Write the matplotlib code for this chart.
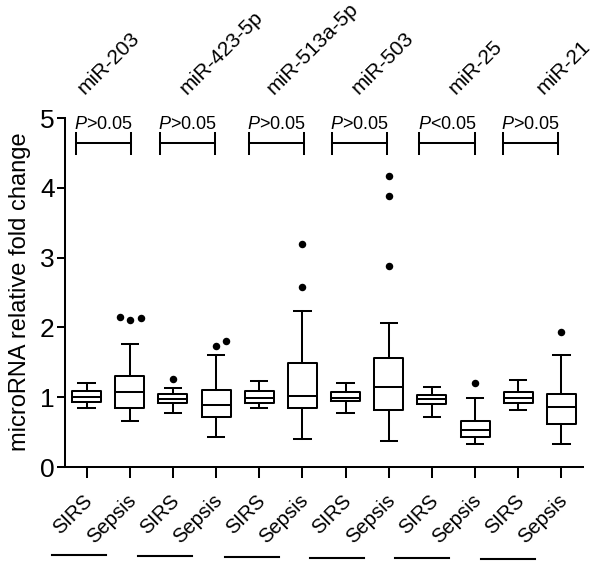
import matplotlib
matplotlib.use("Agg")
import matplotlib.pyplot as plt
from matplotlib.lines import Line2D
import matplotlib.transforms as mtrans

plt.rcParams['font.family'] = ['Liberation Sans', 'DejaVu Sans']
plt.rcParams['mathtext.fontset'] = 'custom'
plt.rcParams['mathtext.it'] = 'Liberation Sans:italic'
plt.rcParams['mathtext.rm'] = 'Liberation Sans'

# ---- data ----
mirnas = ["miR-203", "miR-423-5p", "miR-513a-5p", "miR-503", "miR-25", "miR-21"]
groups = ["SIRS", "Sepsis"]
p_labels = [">0.05", ">0.05", ">0.05", ">0.05", "<0.05", ">0.05"]

# per box (SIRS, Sepsis alternating)
whis_lo = [0.85, 0.66, 0.77, 0.43, 0.84, 0.40, 0.77, 0.37, 0.72, 0.33, 0.81, 0.33]
q1      = [0.93, 0.85, 0.91, 0.71, 0.92, 0.84, 0.94, 0.82, 0.90, 0.43, 0.91, 0.61]
median  = [1.00, 1.08, 0.98, 0.89, 0.99, 1.02, 0.99, 1.15, 0.97, 0.53, 0.99, 0.86]
q3      = [1.09, 1.30, 1.04, 1.10, 1.09, 1.49, 1.07, 1.56, 1.03, 0.66, 1.08, 1.04]
whis_hi = [1.20, 1.76, 1.13, 1.61, 1.23, 2.24, 1.21, 2.07, 1.15, 0.99, 1.24, 1.60]
outliers = [[], [2.15, 2.11, 2.13], [1.26], [1.73, 1.81], [], [3.20, 2.58],
            [], [4.17, 3.88, 2.88], [], [1.20], [], [1.93]]
outlier_dx = [[], [-0.23, 0.0, 0.25], [0.0], [0.0, 0.24], [], [0.0, 0.0],
              [], [0.0, 0.0, 0.0], [], [0.0], [], [0.0]]

# ---- layout ----
W, H = 600, 563
fig = plt.figure(figsize=(W / 100, H / 100), dpi=100)
ax = fig.add_axes([0.1083, 0.1705, 0.8634, 0.6199])

positions = list(range(1, 13))
stats = []
for i in range(12):
    stats.append(dict(med=median[i], q1=q1[i], q3=q3[i],
                      whislo=whis_lo[i], whishi=whis_hi[i], fliers=[]))

lw = 1.45
ax.bxp(stats, positions=positions, widths=0.67, showfliers=False,
       boxprops=dict(color='black', linewidth=lw),
       medianprops=dict(color='black', linewidth=lw),
       whiskerprops=dict(color='black', linewidth=lw),
       capprops=dict(color='black', linewidth=lw),
       capwidths=0.38)

for i in range(12):
    for v, dx in zip(outliers[i], outlier_dx[i]):
        ax.plot(positions[i] + dx, v, 'o', color='black', markersize=5.4,
                markeredgewidth=0)

ax.set_xlim(0.5, 12.5)
ax.set_ylim(0, 5)
ax.set_yticks([0, 1, 2, 3, 4, 5])
ax.set_xticks(positions)
ax.set_xticklabels(groups * 6, rotation=45, ha='right', va='top',
                   rotation_mode='anchor', fontsize=14.5)
ax.tick_params(axis='x', length=8, width=lw, direction='out', pad=9.3)
ax.tick_params(axis='y', length=6, width=lw, direction='out', labelsize=19, pad=1.5)
for lab in ax.get_xticklabels():
    lab.set_transform(lab.get_transform() +
                      mtrans.ScaledTranslation(-3.6 / 100, 0, fig.dpi_scale_trans))
for s in ['top', 'right']:
    ax.spines[s].set_visible(False)
for s in ['left', 'bottom']:
    ax.spines[s].set_linewidth(lw)
ax.set_ylabel("microRNA relative fold change", fontsize=17)
ax.yaxis.set_label_coords(-0.0656, 0.503)

# significance brackets
bracket_left = [0.756, 2.70, 4.76, 6.69, 8.71, 10.65]
bw = 1.28
by, bh = 4.64, 0.15
for bl, pl in zip(bracket_left, p_labels):
    ax.plot([bl, bl + bw], [by, by], color='black', lw=lw, clip_on=False)
    ax.plot([bl, bl], [by - bh, by + bh], color='black', lw=lw, clip_on=False)
    ax.plot([bl + bw, bl + bw], [by - bh, by + bh], color='black', lw=lw, clip_on=False)
    ax.text(bl + bw / 2, 4.84, r"$\mathit{P}$" + pl, ha='center', va='baseline',
            fontsize=13, clip_on=False)

# miRNA names above
name_x = [0.96, 3.32, 5.33, 7.30, 9.55, 11.59]
for nx, name in zip(name_x, mirnas):
    ax.text(nx, 5.33, name, rotation=45, ha='left', va='baseline',
            rotation_mode='anchor', fontsize=15, clip_on=False)

# underlines below tick labels (data x, figure-pixel y)
under_c = [0.83, 2.81, 4.84, 6.81, 8.78, 10.77]
under_hw = 0.625
under_y = [555, 555.7, 556.7, 557.7, 558, 558.7]
blend = mtrans.blended_transform_factory(ax.transData, fig.transFigure)
for c, yy in zip(under_c, under_y):
    fig.add_artist(Line2D([c - under_hw, c + under_hw], [1 - yy / H, 1 - yy / H],
                          color='black', lw=1.5, transform=blend))

fig.savefig("out.png", dpi=100)
